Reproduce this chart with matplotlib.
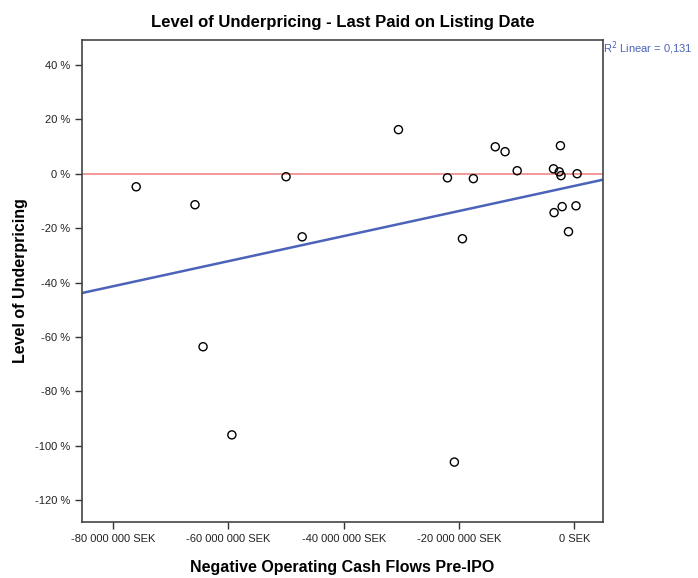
import matplotlib
matplotlib.use("Agg")
import matplotlib.pyplot as plt
import numpy as np

plt.rcParams['font.family'] = ['Liberation Sans', 'DejaVu Sans']

# negative operating cash flows pre-IPO (SEK, millions) and underpricing (%)
cash_flows = [-76.0, -65.8, -64.4, -59.4, -50.0, -47.2, -30.5, -22.0, -20.8,
              -19.4, -17.5, -13.7, -12.0, -9.9, -3.6, -3.5, -2.4, -2.6, -2.3,
              -2.1, -1.0, 0.3, 0.5]
underpricing = [-4.8, -11.4, -63.6, -96.0, -1.1, -23.2, 16.2, -1.5, -106.0,
                -23.9, -1.8, 9.9, 8.1, 1.1, 1.8, -14.3, 10.3, 0.7, -0.7,
                -12.1, -21.3, -11.8, 0.0]
x_ticks = [-80, -60, -40, -20, 0]
y_ticks = [40, 20, 0, -20, -40, -60, -80, -100, -120]
r2_label = "0,131"

x = np.array(cash_flows) * 1e6
y = np.array(underpricing)

fig = plt.figure(figsize=(6.98, 5.78), dpi=100)
ax = fig.add_axes([0.1175, 0.097, 0.7465, 0.834])

ax.axhline(0, color='#f07c7c', lw=1.1, zorder=1)

slope, icept = np.polyfit(x, y, 1)
xl = np.array([-85.4e6, 5.0e6])
ax.plot(xl, slope * xl + icept, color='#4b63b9', lw=1.8, zorder=2)

ax.scatter(x, y, s=34, facecolors='none', edgecolors='black', linewidths=1.0, zorder=3)

ax.set_xlim(-85.4e6, 5.0e6)
ax.set_ylim(-128, 49.2)
ax.set_xticks([t * 1e6 for t in x_ticks])
ax.set_xticklabels(["0 SEK" if t == 0 else f"{t * 1000000:,} SEK".replace(",", " ") for t in x_ticks])
ax.set_yticks(y_ticks)
ax.set_yticklabels([f"{t} %" for t in y_ticks])
ax.tick_params(axis='both', labelsize=8, color='#333333', length=5, width=1, labelcolor='#222222')

for s in ax.spines.values():
    s.set_color('#444444')
    s.set_linewidth(1.2)

ax.set_title("Level of Underpricing - Last Paid on Listing Date", fontsize=12, fontweight='bold', pad=9)
ax.set_xlabel("Negative Operating Cash Flows Pre-IPO", fontsize=11.5, fontweight='bold', labelpad=12)
ax.set_ylabel("Level of Underpricing", fontsize=11.5, fontweight='bold', labelpad=5)

fig.text(0.8635, 0.917, "R$^2$ Linear = " + r2_label, color='#4b63b9', fontsize=8, ha='left', va='center')

fig.savefig("out.png", dpi=100)
